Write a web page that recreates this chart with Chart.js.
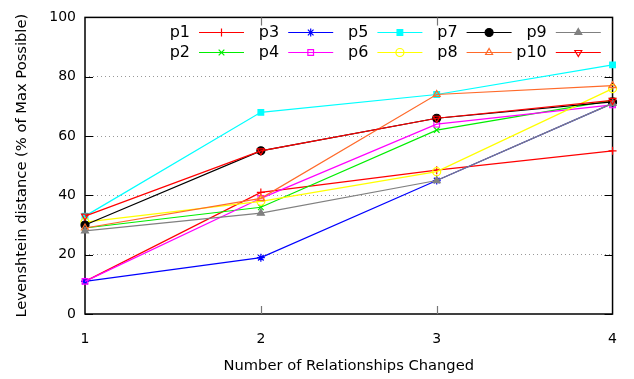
<!DOCTYPE html>
<html>
<head>
<meta charset="utf-8">
<script src="https://cdn.jsdelivr.net/npm/chart.js@4.4.0/dist/chart.umd.min.js"></script>
<style>
  html, body { margin: 0; padding: 0; background: #fff; }
  #wrap { width: 634px; height: 379px; }
</style>
</head>
<body>
<div id="wrap"><canvas id="chart" width="634" height="379"></canvas></div>
<script>
'use strict';

// x positions and y ticks
var xVals = [1, 2, 3, 4];
var yTicks = [0, 20, 40, 60, 80, 100];

var names = ['p1', 'p2', 'p3', 'p4', 'p5', 'p6', 'p7', 'p8', 'p9', 'p10'];
var p1 = [11, 41, 48.5, 55];
var p2 = [29, 36, 62, 72];
var p3 = [11, 19, 45, 71];
var p4 = [11, 39, 64, 70.5];
var p5 = [33, 68, 74, 84];
var p6 = [31, 38, 48, 76];
var p7 = [30, 55, 66, 71.5];
var p8 = [29, 39, 74, 77];
var p9 = [28, 34, 45, 71];
var p10 = [33, 55, 66, 72];

var values = [p1, p2, p3, p4, p5, p6, p7, p8, p9, p10];
var colors = ['#ff0000', '#00ee00', '#0000ff', '#ff00ff', '#00ffff', '#ffff00', '#000000', '#ff6a2a', '#808080', '#ff0000'];
var styles = ['cross', 'crossRot', 'star', 'rect', 'rect', 'circle', 'circle', 'triangle', 'triangle', 'triangle'];
var filled = [false, false, false, false, true, false, true, false, true, false];
var rotations = [0, 0, 0, 0, 0, 0, 0, 0, 0, 180];

var FONT = 'DejaVu Sans';

var datasets = names.map(function(n, i) {
  return {
    label: n,
    data: values[i].map(function(v, j) { return {x: xVals[j], y: v}; }),
    borderColor: colors[i],
    backgroundColor: filled[i] ? colors[i] : 'rgba(255,255,255,0)',
    borderWidth: 1.2,
    pointStyle: styles[i],
    pointRotation: rotations[i],
    pointRadius: 4,
    pointBorderWidth: 1.2,
    pointBorderColor: colors[i],
    pointBackgroundColor: filled[i] ? colors[i] : 'rgba(255,255,255,0)',
    tension: 0,
    clip: false,
    order: 10 - i
  };
});

// gnuplot style frame with inward ticks
var framePlugin = {
  id: 'frame',
  beforeDatasetsDraw: function(chart) {
    var ctx = chart.ctx, a = chart.chartArea;
    var xs = chart.scales.x, ys = chart.scales.y;
    ctx.save();
    ctx.strokeStyle = '#000';
    ctx.lineWidth = 1.5;
    ctx.strokeRect(a.left, a.top, a.right - a.left, a.bottom - a.top);
    ctx.lineWidth = 1.2;
    yTicks.forEach(function(t) {
      var y = Math.round(ys.getPixelForValue(t)) + 0.5;
      ctx.beginPath();
      ctx.moveTo(a.left, y); ctx.lineTo(a.left + 8, y);
      ctx.moveTo(a.right, y); ctx.lineTo(a.right - 8, y);
      ctx.stroke();
    });
    ctx.strokeStyle = '#777';
    xVals.slice(1, -1).forEach(function(t) {
      var x = Math.round(xs.getPixelForValue(t)) + 0.5;
      ctx.beginPath();
      ctx.moveTo(x, a.bottom); ctx.lineTo(x, a.bottom - 8);
      ctx.moveTo(x, a.top); ctx.lineTo(x, a.top + 8);
      ctx.stroke();
    });
    ctx.restore();
  }
};

// legend: text then line sample with marker, 2 rows x 5 columns
var keyPlugin = {
  id: 'key',
  afterDatasetsDraw: function(chart) {
    var ctx = chart.ctx;
    ctx.save();
    ctx.font = '16px "' + FONT + '"';
    ctx.textAlign = 'right';
    ctx.textBaseline = 'middle';
    names.forEach(function(n, i) {
      var col = Math.floor(i / 2), row = i % 2;
      var tx = 190 + col * 89.2, y = 32 + row * 20;
      var lx0 = tx + 9, lx1 = tx + 54;
      ctx.fillStyle = '#000';
      ctx.fillText(n, tx, y + 1);
      ctx.strokeStyle = colors[i];
      ctx.lineWidth = 1.2;
      ctx.beginPath();
      ctx.moveTo(lx0, y + 0.5); ctx.lineTo(lx1, y + 0.5);
      ctx.stroke();
      ctx.fillStyle = filled[i] ? colors[i] : 'rgba(255,255,255,0)';
      Chart.helpers.drawPoint(ctx, {pointStyle: styles[i], radius: 4, rotation: rotations[i], borderWidth: 1.2}, (lx0 + lx1) / 2, y + 0.5);
    });
    ctx.restore();
  }
};

new Chart(document.getElementById('chart'), {
  type: 'line',
  data: {datasets: datasets},
  options: {
    responsive: false,
    animation: false,
    layout: {padding: {top: 12, right: 16, left: 0, bottom: 0}},
    plugins: {legend: {display: false}, tooltip: {enabled: false}},
    scales: {
      x: {
        type: 'linear',
        min: 1, max: 4,
        afterFit: function(s) { s.height = 65; },
        ticks: {stepSize: 1, padding: 17, color: '#000', font: {family: FONT, size: 14}},
        grid: {display: false, drawTicks: false},
        border: {display: false},
        title: {display: true, text: 'Number of Relationships Changed', color: '#000', font: {family: FONT, size: 14.7}, padding: {top: 0, bottom: 4}}
      },
      y: {
        min: 0, max: 100,
        afterFit: function(s) { s.width = 85; },
        afterBuildTicks: function(s) { s.ticks = yTicks.map(function(v) { return {value: v}; }); },
        ticks: {padding: 9, color: '#000', font: {family: FONT, size: 14}},
        grid: {
          drawTicks: false,
          color: function(c) { return (c.tick.value > 0 && c.tick.value < 100) ? '#999' : 'rgba(0,0,0,0)'; },
          lineWidth: 1
        },
        border: {display: false, dash: [1, 3]},
        title: {display: true, text: 'Levenshtein distance (% of Max Possible)', color: '#000', font: {family: FONT, size: 14.7}, padding: {top: 13, bottom: 0}}
      }
    }
  },
  plugins: [framePlugin, keyPlugin]
});
</script>
</body>
</html>
